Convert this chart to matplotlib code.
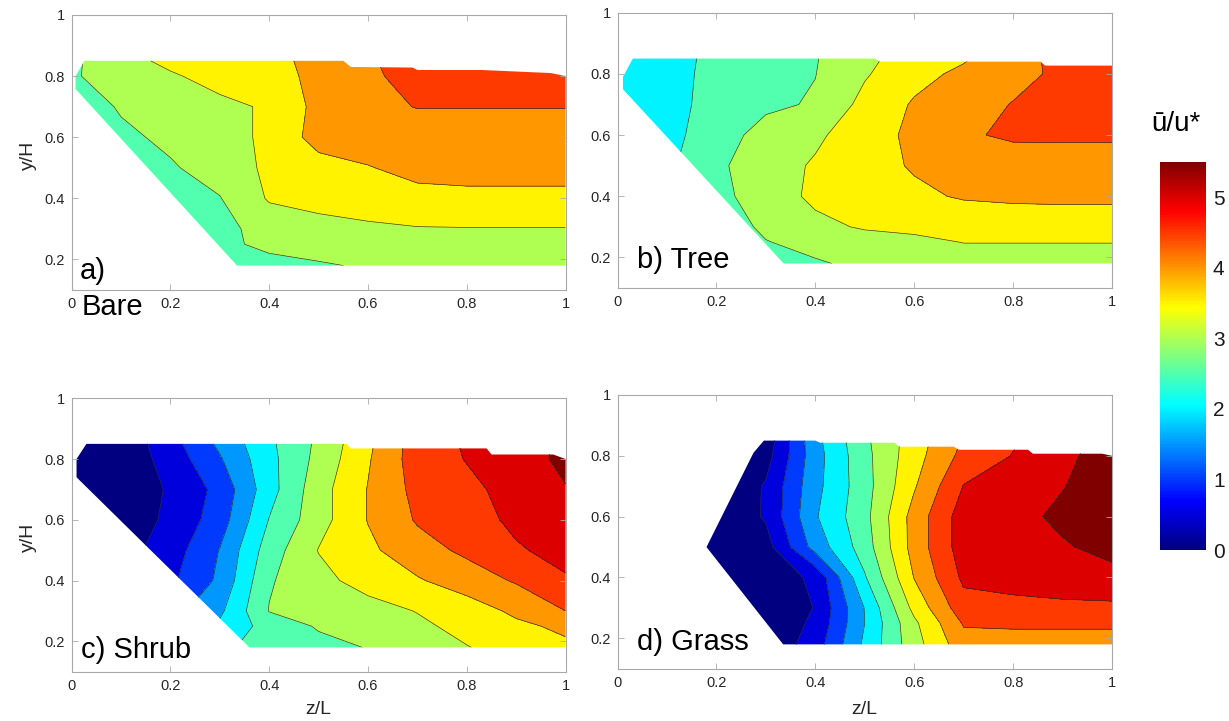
import numpy as np
import matplotlib
matplotlib.use("Agg")
import matplotlib.pyplot as plt
from matplotlib.colors import ListedColormap, Normalize
from matplotlib.cm import ScalarMappable
from matplotlib.patches import Polygon

plt.rcParams['font.family'] = ['Liberation Sans', 'DejaVu Sans']

# ---- measurement grid: streamwise position z/L and height y/H ----
z_grid = [0.0, 0.1, 0.2, 0.3, 0.4, 0.5, 0.6, 0.7, 0.8, 0.9, 1.0]
y_grid = [0.18, 0.25, 0.30, 0.40, 0.50, 0.60, 0.70, 0.80, 0.85]

# normalised mean velocity u/u*, one row per height (bottom to top)
bare_u = [
    [2.20, 2.20, 2.30, 2.50, 2.80, 2.95, 3.05, 3.10, 3.15, 3.15, 3.15],
    [2.20, 2.30, 2.40, 2.85, 3.15, 3.20, 3.25, 3.30, 3.30, 3.30, 3.30],
    [2.30, 2.40, 2.50, 2.85, 3.20, 3.30, 3.40, 3.47, 3.48, 3.48, 3.48],
    [2.40, 2.50, 2.70, 2.98, 3.55, 3.70, 3.80, 3.88, 3.90, 3.90, 3.90],
    [2.50, 2.70, 2.95, 3.20, 3.60, 3.80, 3.98, 4.12, 4.15, 4.15, 4.15],
    [2.60, 2.90, 3.10, 3.30, 3.60, 4.20, 4.20, 4.20, 4.20, 4.20, 4.20],
    [2.70, 3.05, 3.25, 3.40, 3.55, 4.15, 4.35, 4.52, 4.52, 4.52, 4.52],
    [2.95, 3.20, 3.45, 3.65, 3.85, 4.10, 4.40, 4.70, 4.80, 4.85, 4.85],
    [2.90, 3.35, 3.60, 3.75, 3.90, 4.10, 4.45, 4.70, 4.80, 4.85, 4.85],
]
tree_u = [
    [2.20, 2.30, 2.50, 2.80, 2.95, 3.10, 3.20, 3.30, 3.30, 3.30, 3.30],
    [2.20, 2.40, 2.60, 2.98, 3.15, 3.30, 3.40, 3.51, 3.51, 3.51, 3.51],
    [2.20, 2.40, 2.70, 3.10, 3.38, 3.55, 3.60, 3.65, 3.68, 3.68, 3.68],
    [2.20, 2.40, 2.85, 3.25, 3.60, 3.75, 3.90, 4.05, 4.10, 4.12, 4.12],
    [2.20, 2.40, 2.90, 3.30, 3.55, 3.80, 4.05, 4.20, 4.30, 4.32, 4.32],
    [2.20, 2.35, 2.75, 3.20, 3.42, 3.75, 4.12, 4.45, 4.56, 4.56, 4.56],
    [2.20, 2.35, 2.65, 2.90, 3.05, 3.65, 4.05, 4.30, 4.52, 4.65, 4.70],
    [2.20, 2.35, 2.62, 2.82, 2.99, 3.45, 3.85, 4.10, 4.35, 4.60, 4.70],
    [2.20, 2.35, 2.60, 2.80, 2.97, 3.40, 3.70, 3.95, 4.30, 4.65, 4.75],
]
shrub_u = [
    [1.50, 1.70, 2.00, 2.40, 2.70, 2.85, 3.02, 3.25, 3.48, 3.70, 3.90],
    [1.20, 1.40, 1.70, 2.10, 2.70, 3.05, 3.15, 3.40, 3.65, 3.90, 4.10],
    [0.80, 1.00, 1.30, 1.90, 3.02, 3.15, 3.30, 3.52, 3.75, 4.10, 4.50],
    [0.30, 0.50, 0.90, 1.60, 2.95, 3.35, 3.70, 3.95, 4.25, 4.55, 4.95],
    [0.10, 0.30, 0.75, 1.52, 2.75, 3.52, 3.90, 4.30, 4.60, 4.95, 5.15],
    [0.10, 0.20, 0.60, 1.25, 2.52, 3.30, 4.02, 4.55, 4.80, 5.10, 5.30],
    [0.10, 0.20, 0.55, 1.15, 2.30, 3.30, 4.02, 4.65, 4.90, 5.15, 5.48],
    [0.10, 0.15, 0.70, 1.45, 2.35, 3.15, 3.95, 4.75, 5.02, 5.30, 5.60],
    [0.10, 0.15, 0.80, 1.60, 2.40, 3.10, 3.90, 4.75, 5.05, 5.30, 5.60],
]
grass_u = [
    [0.00, 0.00, 0.00, 0.10, 0.75, 2.10, 3.30, 4.30, 4.20, 4.20, 4.20],
    [0.00, 0.00, 0.00, 0.10, 0.60, 2.00, 3.40, 4.55, 4.62, 4.62, 4.62],
    [0.00, 0.00, 0.00, 0.10, 0.52, 2.02, 3.65, 4.80, 4.85, 4.88, 4.90],
    [0.00, 0.00, 0.05, 0.20, 0.60, 2.45, 4.02, 5.10, 5.20, 5.30, 5.35],
    [0.00, 0.00, 0.10, 0.30, 1.70, 2.75, 4.20, 5.25, 5.30, 5.45, 5.65],
    [0.00, 0.00, 0.10, 0.55, 1.95, 2.85, 4.20, 5.25, 5.35, 5.60, 5.80],
    [0.00, 0.00, 0.00, 0.55, 1.85, 2.80, 3.95, 5.02, 5.20, 5.48, 5.75],
    [0.00, 0.00, 0.00, 0.30, 1.80, 2.85, 3.80, 4.65, 5.02, 5.40, 5.70],
    [0.00, 0.00, 0.00, 0.20, 1.85, 2.90, 3.75, 4.55, 4.95, 5.35, 5.65],
]

# outline of the flow domain in each case (z/L, y/H)
bare_edge_z = [0.026, 0.55, 0.565, 0.69, 0.70, 0.83, 0.97, 1.0, 1.0, 0.335, 0.008, 0.008]
bare_edge_y = [0.85, 0.85, 0.83, 0.828, 0.82, 0.82, 0.81, 0.80, 0.18, 0.18, 0.758, 0.80]
tree_edge_z = [0.031, 0.52, 0.53, 0.855, 0.865, 1.0, 1.0, 0.336, 0.011, 0.011]
tree_edge_y = [0.85, 0.85, 0.84, 0.84, 0.827, 0.827, 0.18, 0.18, 0.75, 0.79]
shrub_edge_z = [0.03, 0.556, 0.565, 0.84, 0.85, 0.975, 1.0, 1.0, 0.36, 0.01, 0.01]
shrub_edge_y = [0.85, 0.85, 0.835, 0.835, 0.815, 0.815, 0.80, 0.18, 0.18, 0.74, 0.80]
grass_edge_z = [0.296, 0.40, 0.41, 0.56, 0.57, 0.68, 0.69, 0.83, 0.84, 0.98, 1.0, 1.0, 0.335, 0.18, 0.275]
grass_edge_y = [0.85, 0.85, 0.843, 0.843, 0.83, 0.83, 0.82, 0.82, 0.807, 0.807, 0.80, 0.18, 0.18, 0.50, 0.81]

panel_names = ["a)", "b) Tree", "c) Shrub", "d) Grass"]
levels = [-1.0, 0.5, 1.0, 1.5, 2.0, 2.5, 3.0, 3.5, 4.0, 4.5, 5.0, 5.5, 8.0]
u_min, u_max = 0.0, 5.5
x_ticks = [0, 0.2, 0.4, 0.6, 0.8, 1]
x_tick_labels = ["0", "0.2", "0.4", "0.6", "0.8", "1"]
y_ticks = [0.2, 0.4, 0.6, 0.8, 1]
y_tick_labels = ["0.2", "0.4", "0.6", "0.8", "1"]
cbar_ticks = [0, 1, 2, 3, 4, 5]


def jet(x):
    """Classic 'jet' colour ramp (dark blue -> dark red)."""
    x = np.asarray(x, dtype=float)
    r = np.clip(np.minimum(4 * x - 1.5, -4 * x + 4.5), 0, 1)
    g = np.clip(np.minimum(4 * x - 0.5, -4 * x + 3.5), 0, 1)
    b = np.clip(np.minimum(4 * x + 0.5, -4 * x + 2.5), 0, 1)
    return np.stack([r, g, b], axis=-1)


jet_cmap = ListedColormap(jet(np.linspace(0, 1, 256)), name="jet_classic")
n_bands = len(levels) - 1
band_colors = [tuple(c) for c in jet(np.arange(n_bands) / (n_bands - 1))]

fig = plt.figure(figsize=(12.29, 7.21), dpi=100)
W, H = 1229.0, 721.0


def ax_rect(left, right, top, bottom):
    return [left / W, 1 - bottom / H, (right - left) / W, (bottom - top) / H]


rects = [
    ax_rect(71.6, 565.6, 15.0, 290.0),
    ax_rect(617.5, 1112.0, 12.7, 288.0),
    ax_rect(71.6, 565.6, 398.3, 671.7),
    ax_rect(617.5, 1112.0, 395.0, 668.7),
]
fields = [bare_u, tree_u, shrub_u, grass_u]
outlines = [(bare_edge_z, bare_edge_y), (tree_edge_z, tree_edge_y),
            (shrub_edge_z, shrub_edge_y), (grass_edge_z, grass_edge_y)]
label_pos = [(0.017, 0.137), (0.039, 0.165), (0.019, 0.145), (0.039, 0.161)]

Zg, Yg = np.meshgrid(z_grid, y_grid)
spine_col = "#a9a9a9"

axes = []
for i in range(4):
    ax = fig.add_axes(rects[i])
    axes.append(ax)
    U = np.array(fields[i])
    cf = ax.contourf(Zg, Yg, U, levels=levels, colors=band_colors)
    cl = ax.contour(Zg, Yg, U, levels=levels[1:-1], colors="#2b2b2b", linewidths=0.45)
    oz, oy = outlines[i]
    clip = Polygon(np.column_stack([oz, oy]), closed=True, transform=ax.transData,
                   facecolor="none", edgecolor="none")
    cf.set_clip_path(clip)
    cl.set_clip_path(clip)

    ax.set_xlim(0, 1)
    ax.set_ylim(0.1, 1)
    ax.set_xticks(x_ticks)
    ax.set_xticklabels(x_tick_labels)
    ax.set_yticks(y_ticks)
    ax.set_yticklabels(y_tick_labels)
    ax.tick_params(direction="in", top=True, right=True, length=4, width=0.6,
                   color=spine_col, labelcolor="#262626", labelsize=10.5, pad=5)
    for s in ax.spines.values():
        s.set_color(spine_col)
        s.set_linewidth(0.8)

    lx, ly = label_pos[i]
    ax.text(lx, ly, panel_names[i], fontsize=21, color="black",
            ha="left", va="baseline", zorder=5)

# the bare-soil case name sits under its panel letter
axes[0].text(0.021, 0.018, "Bare", fontsize=21, color="black",
             ha="left", va="baseline", clip_on=False, zorder=5)

# axis labels
for yc in (155.0, 537.0):
    fig.text(28.7 / W, 1 - yc / H, "y/H", rotation=90, fontsize=14,
             ha="center", va="center", color="#262626")
for xc in (318.6, 864.7):
    fig.text(xc / W, 1 - 710.0 / H, "z/L", fontsize=14,
             ha="center", va="center", color="#262626")

# colour bar
cax = fig.add_axes(ax_rect(1160.0, 1206.0, 162.0, 550.0))
sm = ScalarMappable(norm=Normalize(u_min, u_max), cmap=jet_cmap)
cb = fig.colorbar(sm, cax=cax, ticks=cbar_ticks)
cb.outline.set_visible(False)
cax.tick_params(length=0, labelsize=15, pad=5, labelcolor="#1a1a1a")
fig.text(1176.0 / W, 1 - 124.0 / H, "ū/u*", fontsize=20,
         ha="center", va="center", color="black")

fig.savefig("out.png", dpi=100, facecolor="white")
